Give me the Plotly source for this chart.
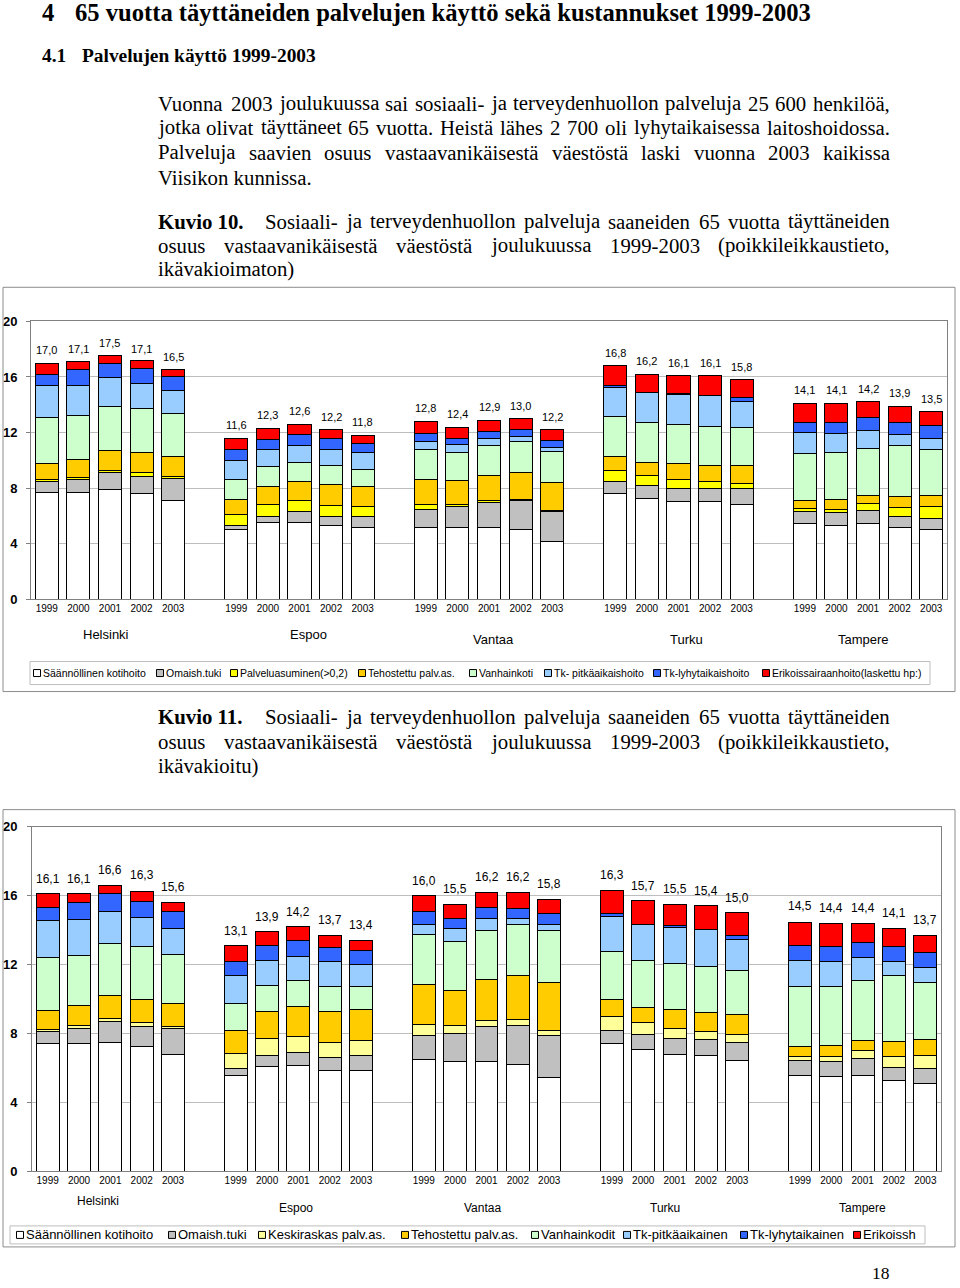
import plotly.graph_objects as go

W, H = 960, 1288

# ---------------- DATA ----------------
cities = ["Helsinki", "Espoo", "Vantaa", "Turku", "Tampere"]
years = ["1999", "2000", "2001", "2002", "2003"]

# Kuvio 10 (ikävakioimaton)
series_names_1 = ["Säännöllinen kotihoito", "Omaish.tuki", "Palveluasuminen(>0,2)", "Tehostettu palv.as.",
                  "Vanhainkoti", "Tk- pitkäaikaishoito", "Tk-lyhytaikaishoito", "Erikoissairaanhoito(laskettu hp:)"]
kotihoito_1 = [7.7, 7.7, 7.9, 7.6, 7.15, 5.0, 5.5, 5.55, 5.3, 5.15, 5.2, 5.15, 5.15, 5.0, 4.15,
               7.6, 7.25, 7.05, 7.05, 6.8, 5.45, 5.35, 5.45, 5.15, 5.0]
omaish_1 = [0.8, 0.95, 1.2, 1.25, 1.55, 0.35, 0.5, 0.75, 0.65, 0.8, 1.3, 1.5, 1.85, 2.1, 2.15,
            0.85, 0.95, 0.95, 0.9, 1.15, 0.85, 0.9, 0.95, 0.8, 0.85]
palvas_1 = [0.15, 0.15, 0.15, 0.25, 0.15, 0.75, 0.85, 0.8, 0.8, 0.7, 0.3, 0.2, 0.1, 0.1, 0.1,
            0.8, 0.75, 0.6, 0.5, 0.4, 0.25, 0.25, 0.5, 0.65, 0.8]
tehost_1 = [1.15, 1.3, 1.45, 1.5, 1.45, 1.1, 1.3, 1.4, 1.5, 1.5, 1.85, 1.7, 1.85, 1.95, 2.0,
            1.0, 0.9, 1.2, 1.15, 1.3, 0.6, 0.7, 0.6, 0.8, 0.85]
vanh_1 = [3.3, 3.1, 3.2, 3.15, 3.05, 1.45, 1.4, 1.35, 1.35, 1.2, 2.1, 2.0, 2.1, 2.2, 2.25,
          2.9, 2.85, 2.8, 2.85, 2.7, 3.35, 3.35, 3.35, 3.7, 3.25]
tkpitka_1 = [2.3, 2.2, 2.05, 1.8, 1.65, 1.35, 1.2, 1.25, 1.2, 1.2, 0.6, 0.6, 0.5, 0.35, 0.3,
             2.1, 2.15, 2.15, 2.2, 1.9, 1.5, 1.35, 1.3, 0.75, 0.85]
tklyhyt_1 = [0.8, 1.1, 1.05, 1.05, 1.0, 0.75, 0.75, 0.75, 0.75, 0.7, 0.55, 0.45, 0.5, 0.5, 0.5,
             0.1, 0.05, 0.05, 0.05, 0.25, 0.75, 0.8, 0.9, 0.9, 0.9]
esh_1 = [0.75, 0.6, 0.55, 0.55, 0.5, 0.85, 0.8, 0.75, 0.65, 0.55, 0.9, 0.8, 0.85, 0.8, 0.75,
         1.45, 1.3, 1.3, 1.4, 1.3, 1.35, 1.4, 1.15, 1.15, 1.0]
totals_1 = [17.0, 17.1, 17.5, 17.1, 16.5, 11.6, 12.3, 12.6, 12.2, 11.8, 12.8, 12.4, 12.9, 13.0, 12.2,
            16.8, 16.2, 16.1, 16.1, 15.8, 14.1, 14.1, 14.2, 13.9, 13.5]

# Kuvio 11 (ikävakioitu)
series_names_2 = ["Säännöllinen kotihoito", "Omaish.tuki", "Keskiraskas palv.as.", "Tehostettu palv.as.",
                  "Vanhainkodit", "Tk-pitkäaikainen", "Tk-lyhytaikainen", "Erikoissh"]
kotihoito_2 = [7.4, 7.4, 7.5, 7.25, 6.8, 5.55, 6.1, 6.15, 5.85, 5.85, 6.5, 6.35, 6.35, 6.2, 5.45,
               7.4, 7.05, 6.8, 6.7, 6.45, 5.55, 5.5, 5.55, 5.25, 5.1]
omaish_2 = [0.7, 0.9, 1.2, 1.15, 1.5, 0.4, 0.6, 0.75, 0.75, 0.85, 1.4, 1.65, 2.05, 2.25, 2.45,
            0.8, 0.9, 0.9, 0.95, 1.05, 0.9, 0.85, 1.0, 0.8, 0.85]
keski_2 = [0.15, 0.15, 0.15, 0.25, 0.1, 0.9, 1.0, 0.95, 0.85, 0.9, 0.6, 0.45, 0.35, 0.35, 0.3,
           0.8, 0.7, 0.6, 0.45, 0.45, 0.2, 0.3, 0.45, 0.6, 0.8]
tehost_2 = [1.1, 1.15, 1.35, 1.35, 1.35, 1.3, 1.55, 1.7, 1.8, 1.8, 2.35, 2.05, 2.4, 2.55, 2.75,
            0.95, 0.85, 1.1, 1.1, 1.15, 0.6, 0.65, 0.6, 0.9, 0.9]
vanh_2 = [3.05, 2.9, 3.0, 3.05, 2.85, 1.6, 1.55, 1.5, 1.45, 1.35, 2.9, 2.85, 2.85, 2.95, 3.0,
          2.8, 2.75, 2.65, 2.7, 2.55, 3.45, 3.45, 3.5, 3.8, 3.3]
tkpitka_2 = [2.15, 2.1, 1.85, 1.65, 1.5, 1.6, 1.45, 1.4, 1.5, 1.25, 0.6, 0.75, 0.65, 0.35, 0.35,
             2.05, 2.05, 2.1, 2.15, 1.8, 1.55, 1.45, 1.3, 0.8, 0.9]
tklyhyt_2 = [0.75, 1.0, 1.05, 0.95, 0.95, 0.85, 0.85, 0.95, 0.8, 0.8, 0.7, 0.55, 0.65, 0.6, 0.65,
             0.15, 0.05, 0.1, 0.0, 0.25, 0.85, 0.85, 0.9, 0.9, 0.85]
esh_2 = [0.8, 0.5, 0.5, 0.6, 0.55, 0.9, 0.8, 0.8, 0.7, 0.6, 0.95, 0.85, 0.9, 0.95, 0.85,
         1.35, 1.35, 1.25, 1.35, 1.3, 1.35, 1.35, 1.1, 1.05, 1.0]
totals_2 = [16.1, 16.1, 16.6, 16.3, 15.6, 13.1, 13.9, 14.2, 13.7, 13.4, 16.0, 15.5, 16.2, 16.2, 15.8,
            16.3, 15.7, 15.5, 15.4, 15.0, 14.5, 14.4, 14.4, 14.1, 13.7]

y_ticks = [0, 4, 8, 12, 16, 20]

# ---------------- STYLE ----------------
colors_1 = ["#FFFFFF", "#C0C0C0", "#FFFF00", "#FFCC00", "#CCFFCC", "#99CCFF", "#3366FF", "#FF0000"]
colors_2 = ["#FFFFFF", "#C0C0C0", "#FFFF99", "#FFCC00", "#CCFFCC", "#99CCFF", "#3366FF", "#FF0000"]
SANS = "Liberation Sans, Arial, sans-serif"
SERIF = "Liberation Serif, Times New Roman, serif"

# the photographed page maps figure y -> 7.9 + 0.9877*y ; place items by their target pixel position
Y_OFF, Y_SCALE = 7.9, 0.9877


def px(x):
    return x / W


def py(y):
    return 1 - ((y - Y_OFF) / Y_SCALE) / H


# bar x positions: 5 bars per city, one empty slot between cities
xpos = [g * 6 + i for g in range(len(cities)) for i in range(len(years))]
ticktext = [y for _ in cities for y in years]

fig = go.Figure()

charts = [
    dict(series=[kotihoito_1, omaish_1, palvas_1, tehost_1, vanh_1, tkpitka_1, tklyhyt_1, esh_1],
         names=series_names_1, colors=colors_1, totals=totals_1, xa="x", ya="y", lshift=13, lsize=11),
    dict(series=[kotihoito_2, omaish_2, keski_2, tehost_2, vanh_2, tkpitka_2, tklyhyt_2, esh_2],
         names=series_names_2, colors=colors_2, totals=totals_2, xa="x2", ya="y2", lshift=15, lsize=12),
]

for ch in charts:
    for vals, name, col in zip(ch["series"], ch["names"], ch["colors"]):
        fig.add_trace(go.Bar(x=xpos, y=vals, name=name, marker=dict(color=col, line=dict(color="#000000", width=1)),
                             width=0.73, xaxis=ch["xa"], yaxis=ch["ya"], showlegend=False))

fig.update_layout(barmode="stack", width=W, height=H, margin=dict(l=0, r=0, t=0, b=0),
                  paper_bgcolor="white", plot_bgcolor="white", font=dict(family=SANS, color="black"))

axis_common_x = dict(range=[-0.5, 28.5], tickvals=xpos, ticktext=ticktext, showgrid=False, zeroline=False,
                     showline=True, linecolor="#808080", mirror=True, ticks="", tickfont=dict(size=10, family=SANS))
axis_common_y = dict(range=[0, 20], tickvals=y_ticks, showgrid=True, gridcolor="#BDBDBD", gridwidth=1,
                     zeroline=False, showline=True, linecolor="#808080", mirror=True, ticks="outside",
                     ticklen=4, tickcolor="#808080", tickfont=dict(size=13, family=SANS, weight="bold"))

fig.update_layout(
    xaxis=dict(domain=[px(31), px(947)], anchor="y", **axis_common_x),
    yaxis=dict(domain=[py(600), py(322)], anchor="x", ticklabelstandoff=6, **axis_common_y),
    xaxis2=dict(domain=[px(32), px(941)], anchor="y2", **axis_common_x),
    yaxis2=dict(domain=[py(1171.5), py(827)], anchor="x2", ticklabelstandoff=7, **axis_common_y),
)

ann = []
shapes = []


def fmt(v):
    return f"{v:.1f}".replace(".", ",")


# value labels
for ch in charts:
    for x, t in zip(xpos, ch["totals"]):
        ann.append(dict(x=x, y=t, xref=ch["xa"], yref=ch["ya"], text=fmt(t), showarrow=False,
                        yanchor="middle", yshift=ch["lshift"], font=dict(size=ch["lsize"], family=SANS)))

# outer frames
shapes.append(dict(type="rect", xref="paper", yref="paper", x0=px(3), x1=px(955), y0=py(692), y1=py(288),
                   line=dict(color="#8C8C8C", width=1)))
shapes.append(dict(type="rect", xref="paper", yref="paper", x0=px(3), x1=px(955), y0=py(1247), y1=py(810),
                   line=dict(color="#8C8C8C", width=1)))

# city labels
city_pos_1 = [(106, 635), (308, 635), (494, 640), (686, 640), (863, 640)]
city_pos_2 = [(98, 1201), (296, 1208), (482, 1208), (665, 1208), (862, 1208)]
for name, (cx, cy) in zip(cities, city_pos_1):
    ann.append(dict(x=px(cx), y=py(cy), xref="paper", yref="paper", text=name, showarrow=False,
                    xanchor="center", yanchor="middle", font=dict(size=13, family=SANS)))
for name, (cx, cy) in zip(cities, city_pos_2):
    ann.append(dict(x=px(cx), y=py(cy), xref="paper", yref="paper", text=name, showarrow=False,
                    xanchor="center", yanchor="middle", font=dict(size=12, family=SANS)))

# legends (manual)
leg_box_1 = (30, 662, 930, 685)
leg_x_1 = [37, 160, 234, 362, 473, 548, 657, 766]
leg_box_2 = (10, 1226, 925, 1244)
leg_x_2 = [20, 172, 262, 405, 535, 627, 744, 857]
for (bx0, by0, bx1, by1), lx, ch, fsize in [(leg_box_1, leg_x_1, charts[0], 10.5),
                                             (leg_box_2, leg_x_2, charts[1], 13)]:
    shapes.append(dict(type="rect", xref="paper", yref="paper", x0=px(bx0), x1=px(bx1), y0=py(by1), y1=py(by0),
                       line=dict(color="#BDBDBD", width=1), fillcolor="white"))
    cy = (by0 + by1) / 2
    for x0, name, col in zip(lx, ch["names"], ch["colors"]):
        shapes.append(dict(type="rect", xref="paper", yref="paper", x0=px(x0 - 3.5), x1=px(x0 + 3.5),
                           y0=py(cy + 3.5), y1=py(cy - 3.5), line=dict(color="#000000", width=1), fillcolor=col))
        ann.append(dict(x=px(x0 + 6), y=py(cy), xref="paper", yref="paper", text=name, showarrow=False,
                        xanchor="left", yanchor="middle", borderpad=0, borderwidth=0,
                        font=dict(size=fsize, family=SANS)))

# ---------------- document text ----------------
# Times New Roman advance widths (1/1000 em) for justification
TNR = {' ': 250, ',': 250, '.': 250, '-': 333, '(': 333, ')': 333,
       'a': 444, 'b': 500, 'c': 444, 'd': 500, 'e': 444, 'f': 333, 'g': 500, 'h': 500, 'i': 278, 'j': 278,
       'k': 500, 'l': 278, 'm': 778, 'n': 500, 'o': 500, 'p': 500, 'q': 500, 'r': 333, 's': 389, 't': 278,
       'u': 500, 'v': 500, 'w': 722, 'x': 500, 'y': 500, 'z': 444, 'ä': 444, 'ö': 500,
       'V': 722, 'P': 556, 'H': 722, 'S': 556, 'K': 722}
for d in "0123456789":
    TNR[d] = 500


def tw(s, size):
    return sum(TNR.get(c, 500) for c in s) / 1000.0 * size


def txt(x, y, s, size, anchor="left", bold=False):
    ann.append(dict(x=px(x), y=py(y), xref="paper", yref="paper", text=f"<b>{s}</b>" if bold else s,
                    showarrow=False, xanchor=anchor, yanchor="middle", borderpad=0, borderwidth=0,
                    font=dict(size=size, family=SERIF)))


def justify(y, line, size, x0=158, x1=890):
    words = line.split()
    widths = [tw(w, size) for w in words]
    gap = (x1 - x0 - sum(widths)) / (len(words) - 1)
    x = x0
    for i, (w, wd) in enumerate(zip(words, widths)):
        if i == len(words) - 1:
            txt(x1, y, w, size, anchor="right")
        else:
            txt(x, y, w, size)
        x += wd + gap


txt(42, 13.5, "4", 24.6, bold=True)
txt(75, 13.5, "65 vuotta täyttäneiden palvelujen käyttö sekä kustannukset 1999-2003", 24.6, bold=True)
txt(42, 56, "4.1", 19.4, bold=True)
txt(82, 56, "Palvelujen käyttö 1999-2003", 19.4, bold=True)

BODY = 20.8
justify(104, "Vuonna 2003 joulukuussa sai sosiaali- ja terveydenhuollon palveluja 25 600 henkilöä,", BODY)
justify(128, "jotka olivat täyttäneet 65 vuotta. Heistä lähes 2 700 oli lyhytaikaisessa laitoshoidossa.", BODY)
justify(153, "Palveluja saavien osuus vastaavanikäisestä väestöstä laski vuonna 2003 kaikissa", BODY)
txt(158, 178, "Viisikon kunnissa.", BODY)

txt(158, 222, "Kuvio 10.", BODY, bold=True)
justify(222, "Sosiaali- ja terveydenhuollon palveluja saaneiden 65 vuotta täyttäneiden", BODY, x0=265)
justify(246, "osuus vastaavanikäisestä väestöstä joulukuussa 1999-2003 (poikkileikkaustieto,", BODY)
txt(158, 270, "ikävakioimaton)", BODY)

txt(158, 717, "Kuvio 11.", BODY, bold=True)
justify(717, "Sosiaali- ja terveydenhuollon palveluja saaneiden 65 vuotta täyttäneiden", BODY, x0=265)
justify(742, "osuus vastaavanikäisestä väestöstä joulukuussa 1999-2003 (poikkileikkaustieto,", BODY)
txt(158, 766, "ikävakioitu)", BODY)

txt(890, 1273, "18", 17.5, anchor="right")

fig.update_layout(annotations=ann, shapes=shapes)

fig.write_html("out.html", config={"displayModeBar": False},
               post_script="}); document.body.style.margin='0'; document.documentElement.style.overflow='hidden'; (function(){")
